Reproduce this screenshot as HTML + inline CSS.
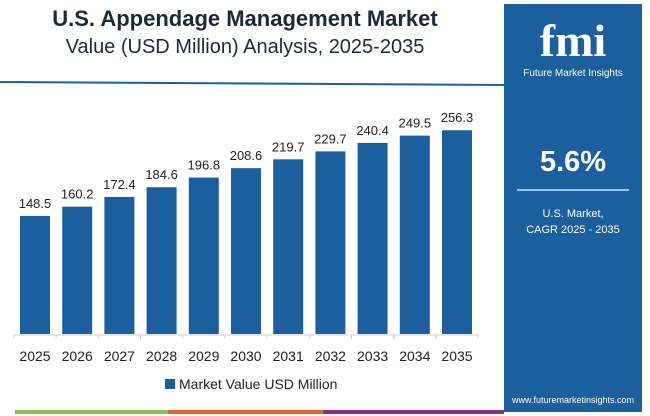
<!DOCTYPE html>
<html><head><meta charset="utf-8">
<style>
body{margin:0;width:650px;height:416px;background:#fff;font-family:"Liberation Sans",sans-serif;overflow:hidden;position:relative}
.t{position:absolute;left:0;width:490px;text-align:center;color:#1b2a3a}
#panel{position:absolute;left:504px;top:4px;width:138px;height:408px;background:#1c5f9f}
</style></head><body>
<div class="t" style="top:6px;font-size:22px;font-weight:bold">U.S. Appendage Management Market</div>
<div class="t" style="top:36px;font-size:20px">Value (USD Million) Analysis, 2025-2035</div>
<div id="panel">
 <div style="position:absolute;top:14px;width:100%;text-align:center;color:#fff;font-size:46px;font-weight:bold;font-family:'Liberation Serif',serif;line-height:46px">fmi</div>
 <div style="position:absolute;top:64px;width:100%;text-align:center;color:#fff;font-size:10px">Future Market Insights</div>
 <div style="position:absolute;top:142px;width:100%;text-align:center;color:#fff;font-size:29px;font-weight:bold">5.6%</div>
 <div style="position:absolute;top:185px;left:13px;width:112px;height:2px;background:#9ec2e4"></div>
 <div style="position:absolute;top:202px;width:100%;text-align:center;color:#fff;font-size:11px;line-height:16px">U.S. Market,<br>CAGR 2025 - 2035</div>
 <div style="position:absolute;top:391px;width:100%;text-align:center;color:#fff;font-size:9px">www.futuremarketinsights.com</div>
</div>
<svg id="c" width="650" height="416" style="position:absolute;left:0;top:0">
 <line x1="0" y1="82" x2="504" y2="85" stroke="#1c5f9f" stroke-width="2"/>
 <rect x="15" y="410" width="153" height="4" fill="#8cc04b"/>
 <rect x="168" y="410" width="155" height="4" fill="#e8622c"/>
 <rect x="323" y="410" width="181" height="4" fill="#8b2b8e"/>
 <g id="g"></g>
 <rect x="165" y="379" width="10" height="10" fill="#1c5f9f"/>
 <text x="179" y="389" font-size="14" fill="#222">Market Value USD Million</text>
</svg>
<script>
const years=["2025","2026","2027","2028","2029","2030","2031","2032","2033","2034","2035"];
const values=[148.5,160.2,172.4,184.6,196.8,208.6,219.7,229.7,240.4,249.5,256.3];
const base=334,scale=0.795,x0=35,step=42.2,bw=30;
const ns="http://www.w3.org/2000/svg",g=document.getElementById('g');
function X(i){return x0+i*step}
function Y(v){return base-v*scale}
const ax=document.createElementNS(ns,'line');
ax.setAttribute('x1',14);ax.setAttribute('x2',478);ax.setAttribute('y1',base+1);ax.setAttribute('y2',base+1);ax.setAttribute('stroke','#ccc');


g.appendChild(ax);
for(let i=0;i<=years.length;i++){const t=document.createElementNS(ns,'line');const tx=X(i)-step/2;
t.setAttribute('x1',tx);t.setAttribute('x2',tx);t.setAttribute('y1',base+1);t.setAttribute('y2',base+5);t.setAttribute('stroke','#ccc');


g.appendChild(t);}
values.forEach((v,i)=>{
 const r=document.createElementNS(ns,'rect');
 r.setAttribute('x',X(i)-bw/2);r.setAttribute('y',Y(v));r.setAttribute('width',bw);r.setAttribute('height',base-Y(v));r.setAttribute('fill','#1c5f9f');
 
 
 g.appendChild(r);
 const t=document.createElementNS(ns,'text');
 t.setAttribute('x',X(i));t.setAttribute('y',Y(v)-8);t.setAttribute('text-anchor','middle');t.setAttribute('font-size','13');t.setAttribute('fill','#222');
 t.textContent=v.toFixed(1);
 
 
 g.appendChild(t);
 const l=document.createElementNS(ns,'text');
 l.setAttribute('x',X(i));l.setAttribute('y',361);l.setAttribute('text-anchor','middle');l.setAttribute('font-size','14');l.setAttribute('fill','#222');
 l.textContent=years[i];
 
 
 g.appendChild(l);
});
</script>
</body></html>
